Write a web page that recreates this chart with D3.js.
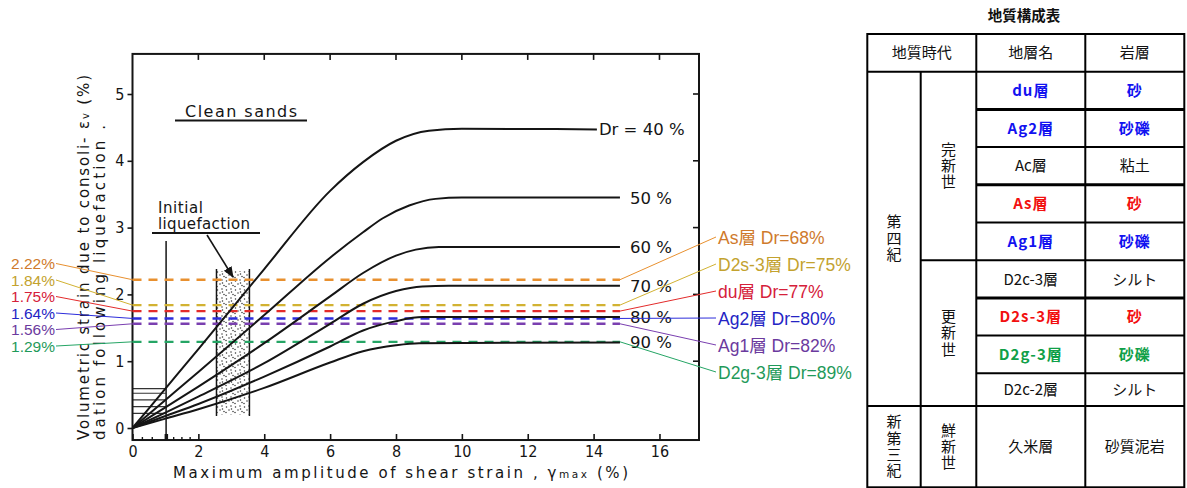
<!DOCTYPE html>
<html><head><meta charset="utf-8">
<script src="https://cdn.jsdelivr.net/npm/d3@7"></script>
<style>
html,body{margin:0;padding:0;background:#fff;}
svg{display:block;}
</style></head>
<body>
<svg id="chart" width="1187" height="488"></svg>
<script>
// ---------------- data ----------------
const drLevels = [40, 50, 60, 70, 80, 90];
const curveDr40 = [[0,0],[1,0.59],[2,1.18],[4,2.38],[6,3.55],[7,3.98],[8,4.3],[9,4.45],[10,4.48],[14.1,4.47]];
const curveDr50 = [[0,0],[1,0.42],[2,0.84],[4,1.69],[6,2.55],[7,2.93],[7.6,3.14],[8.4,3.33],[9.2,3.43],[10,3.45],[14.8,3.45]];
const curveDr60 = [[0,0],[1,0.31],[2,0.62],[4,1.27],[6,1.97],[7,2.32],[8,2.58],[8.6,2.67],[9.3,2.71],[14.8,2.71]];
const curveDr70 = [[0,0],[1,0.23],[2,0.47],[4,0.97],[6,1.56],[7,1.86],[8,2.05],[8.8,2.12],[9.6,2.13],[14.8,2.13]];
const curveDr80 = [[0,0],[1,0.18],[2,0.36],[4,0.77],[6,1.22],[7,1.46],[8,1.6],[8.8,1.66],[14.8,1.66]];
const curveDr90 = [[0,0],[1,0.14],[2,0.28],[4,0.6],[6,0.98],[7,1.15],[8,1.24],[8.7,1.27],[14.8,1.28]];
const drCurves = [curveDr40, curveDr50, curveDr60, curveDr70, curveDr80, curveDr90];

const initialMarks = [0.59, 0.52, 0.42, 0.32, 0.22];
const liquefactionBand = [2.55, 3.55];   // x range of initial liquefaction zone
const liquefactionBandY = [0.2, 2.35];
const initialLine = 1.02;

const xTicks = [0, 2, 4, 6, 8, 10, 12, 14, 16];
const xMinorTicks = [0.3, 0.6, 1.25, 1.5, 1.75];
const yTicks = [0, 1, 2, 3, 4, 5];

const soilLayers = ["As層", "D2s-3層", "du層", "Ag2層", "Ag1層", "D2g-3層"];
const soilDr = [68, 75, 77, 80, 82, 89];
const soilStrain = [2.22, 1.84, 1.75, 1.64, 1.56, 1.29];

const tableTitle = "地質構成表";
const tableHeader = ["地質時代", "地層名", "岩層"];
const tableLayerNames = ["du層","Ag2層","Ac層","As層","Ag1層","D2c-3層","D2s-3層","D2g-3層","D2c-2層","久米層"];
const tableRockTypes = ["砂","砂礫","粘土","砂","砂礫","シルト","砂","砂礫","シルト","砂質泥岩"];
const tablePeriods = ["第四紀", "新第三紀"];
const tableEpochs = ["完新世", "更新世", "鮮新世"];
const tableRowHighlight = ["blue","blue",null,"red","blue",null,"red","green",null,null];

// ---------------- styles ----------------
const dashColors = ["#E8902F", "#D2B232", "#E32B2B", "#2D2DDB", "#7A3FB0", "#25A565"];
const labelColors = ["#CF7A2C", "#C3A22E", "#D5203A", "#2424C4", "#6B3A9E", "#1F9A5A"];
const highlightColors = {blue: "#1212F0", red: "#F21010", green: "#10A048"};
const ink = "#151515";
const plotFont = "'DejaVu Sans', sans-serif";
const condFont = "'DejaVu Sans Condensed', 'DejaVu Sans', sans-serif";
const jpFont = "'Noto Sans CJK JP', 'Noto Sans CJK SC', sans-serif";

const svg = d3.select("#chart");
const x = d3.scaleLinear().domain([0, 17.2]).range([132.5, 699]);
const y = d3.scaleLinear().domain([0, 5]).range([428, 94]);
const yBottom = y(-0.18), yTop = y(5.6);

// defs
const defs = svg.append("defs");
const pat = defs.append("pattern").attr("id", "dots").attr("patternUnits", "userSpaceOnUse")
  .attr("width", 9).attr("height", 9);
[[1.5,2],[6,1],[4,5],[8,6.5],[1,7.5],[6.5,4]].forEach(p =>
  pat.append("circle").attr("cx", p[0]).attr("cy", p[1]).attr("r", 0.75).attr("fill", "#333"));
defs.append("marker").attr("id", "arrow").attr("viewBox", "0 0 10 10").attr("refX", 9).attr("refY", 5)
  .attr("markerWidth", 7).attr("markerHeight", 7).attr("orient", "auto-start-reverse")
  .append("path").attr("d", "M0,1 L10,5 L0,9 z").attr("fill", ink);

// liquefaction band
const band = svg.append("g");
band.append("rect")
  .attr("x", x(liquefactionBand[0])).attr("width", x(liquefactionBand[1]) - x(liquefactionBand[0]))
  .attr("y", y(liquefactionBandY[1])).attr("height", y(liquefactionBandY[0]) - y(liquefactionBandY[1]))
  .attr("fill", "url(#dots)");
band.selectAll("line").data(liquefactionBand).join("line")
  .attr("x1", d => x(d)).attr("x2", d => x(d))
  .attr("y1", y(liquefactionBandY[1] + 0.03)).attr("y2", y(liquefactionBandY[0] - 0.02))
  .attr("stroke", ink).attr("stroke-width", 1.5);

// initial liquefaction line at gamma ~ 1
svg.append("line").attr("x1", x(initialLine)).attr("x2", x(initialLine))
  .attr("y1", y(2.8)).attr("y2", yBottom).attr("stroke", ink).attr("stroke-width", 1.5);
svg.append("rect").attr("x", x(initialLine) - 1.5).attr("y", yBottom - 6).attr("width", 3.5).attr("height", 6).attr("fill", ink);
svg.selectAll(".imark").data(initialMarks).join("line").attr("class", "imark")
  .attr("x1", x(0)).attr("x2", x(initialLine)).attr("y1", d => y(d)).attr("y2", d => y(d))
  .attr("stroke", "#333").attr("stroke-width", 1.2);

// frame
svg.append("rect").attr("x", x(0)).attr("y", yTop).attr("width", x(17.2) - x(0)).attr("height", yBottom - yTop)
  .attr("fill", "none").attr("stroke", ink).attr("stroke-width", 2);

// axes
const gx = svg.append("g").attr("transform", `translate(0,${yBottom})`)
  .call(d3.axisBottom(x).tickValues(xTicks).tickFormat(d3.format("d")).tickSizeInner(-6).tickSizeOuter(0).tickPadding(6));
gx.select(".domain").remove();
gx.selectAll("line").attr("stroke", ink).attr("stroke-width", 1.6);
gx.selectAll("text").attr("font-family", condFont).attr("font-size", 16).attr("fill", ink);
svg.selectAll(".xminor").data(xMinorTicks).join("line").attr("class", "xminor")
  .attr("x1", d => x(d)).attr("x2", d => x(d)).attr("y1", yBottom).attr("y2", yBottom - 3)
  .attr("stroke", ink).attr("stroke-width", 1.4);

const gy = svg.append("g").attr("transform", `translate(${x(0)},0)`)
  .call(d3.axisLeft(y).tickValues(yTicks).tickFormat(d3.format("d")).tickSizeInner(5).tickSizeOuter(0).tickPadding(3));
gy.select(".domain").remove();
gy.selectAll("line").attr("stroke", ink).attr("stroke-width", 1.6);
gy.selectAll("text").attr("font-family", condFont).attr("font-size", 16).attr("fill", ink);

// top & right inner ticks
svg.selectAll(".ttick").data(xTicks.slice(1)).join("line").attr("class", "ttick")
  .attr("x1", d => x(d)).attr("x2", d => x(d)).attr("y1", yTop).attr("y2", yTop + 6)
  .attr("stroke", ink).attr("stroke-width", 1.6);
svg.selectAll(".rtick").data(yTicks.slice(1)).join("line").attr("class", "rtick")
  .attr("x1", x(17.2)).attr("x2", x(17.2) - 6).attr("y1", d => y(d)).attr("y2", d => y(d))
  .attr("stroke", ink).attr("stroke-width", 1.6);

// axis titles
const xt = svg.append("text").attr("x", 173).attr("y", 477.5).attr("font-family", plotFont)
  .attr("font-size", 15).attr("fill", ink).attr("textLength", 455).attr("lengthAdjust", "spacing");
xt.append("tspan").text("Maximum amplitude of shear strain , γ");
xt.append("tspan").attr("font-size", 10.5).text("max");
xt.append("tspan").text(" (%)");

const yt1 = svg.append("text").attr("transform", "translate(89,440) rotate(-90)")
  .attr("font-family", plotFont).attr("font-size", 15).attr("fill", ink)
  .attr("textLength", 365).attr("lengthAdjust", "spacing");
yt1.append("tspan").text("Volumetric strain due to consoli-  ε");
yt1.append("tspan").attr("font-size", 10).text("v");
yt1.append("tspan").text(" (%)");
svg.append("text").attr("transform", "translate(105,440) rotate(-90)")
  .attr("font-family", plotFont).attr("font-size", 15).attr("fill", ink)
  .attr("textLength", 315).attr("lengthAdjust", "spacing")
  .text("dation following liquefaction  .");

// annotations
svg.append("text").attr("x", 185).attr("y", 117).attr("font-family", plotFont).attr("font-size", 16)
  .attr("fill", ink).attr("textLength", 112).attr("lengthAdjust", "spacing").text("Clean sands");
svg.append("line").attr("x1", 175).attr("x2", 307).attr("y1", 120.5).attr("y2", 120.5).attr("stroke", ink).attr("stroke-width", 2.2);
svg.append("text").attr("x", 158).attr("y", 213).attr("font-family", plotFont).attr("font-size", 15)
  .attr("fill", ink).attr("textLength", 45).attr("lengthAdjust", "spacing").text("Initial");
svg.append("text").attr("x", 158).attr("y", 229).attr("font-family", plotFont).attr("font-size", 15)
  .attr("fill", ink).attr("textLength", 92).attr("lengthAdjust", "spacing").text("liquefaction");
svg.append("line").attr("x1", 152).attr("x2", 260).attr("y1", 233).attr("y2", 233).attr("stroke", ink).attr("stroke-width", 1.8);
svg.append("line").attr("x1", 207).attr("y1", 235).attr("x2", 233).attr("y2", 277)
  .attr("stroke", ink).attr("stroke-width", 1.6).attr("marker-end", "url(#arrow)");

// dashed soil lines
svg.selectAll(".soil").data(soilStrain).join("line").attr("class", "soil")
  .attr("x1", x(0)).attr("x2", x(14.8)).attr("y1", d => y(d)).attr("y2", d => y(d))
  .attr("stroke", (d, i) => dashColors[i]).attr("stroke-width", 2.4).attr("stroke-dasharray", "9,7");

// Dr curves
const line = d3.line().x(d => x(d[0])).y(d => y(d[1])).curve(d3.curveMonotoneX);
svg.selectAll(".dr").data(drCurves).join("path").attr("class", "dr")
  .attr("d", line).attr("fill", "none").attr("stroke", ink).attr("stroke-width", 2);
svg.selectAll(".drlab").data(drLevels).join("text").attr("class", "drlab")
  .attr("x", (d, i) => i === 0 ? x(14.1) + 2 : 630)
  .attr("y", (d, i) => y(drCurves[i][drCurves[i].length - 1][1]) + 6)
  .attr("font-family", plotFont).attr("font-size", 16.5).attr("fill", ink)
  .text((d, i) => i === 0 ? `Dr = ${d} %` : `${d} %`);

// left value labels + leaders
const leftY = i => 263.5 + i * 16.5;
svg.selectAll(".lleader").data(soilStrain).join("line").attr("class", "lleader")
  .attr("x1", 56).attr("y1", (d, i) => leftY(i)).attr("x2", x(0)).attr("y2", d => y(d))
  .attr("stroke", (d, i) => dashColors[i]).attr("stroke-width", 1);
svg.selectAll(".llab").data(soilStrain).join("text").attr("class", "llab")
  .attr("x", 55).attr("y", (d, i) => leftY(i) + 5.5).attr("text-anchor", "end")
  .attr("font-family", "'Liberation Sans', Arial, sans-serif").attr("font-size", 15.5)
  .attr("fill", (d, i) => labelColors[i]).text(d => d.toFixed(2) + "%");

// right layer labels + leaders
const rightY = i => 237 + i * 27;
svg.selectAll(".rleader").data(soilStrain).join("line").attr("class", "rleader")
  .attr("x1", x(14.8)).attr("y1", d => y(d)).attr("x2", 716).attr("y2", (d, i) => rightY(i))
  .attr("stroke", (d, i) => dashColors[i]).attr("stroke-width", 1);
svg.selectAll(".rlab").data(soilLayers).join("text").attr("class", "rlab")
  .attr("x", 718).attr("y", (d, i) => rightY(i) + 6.5)
  .attr("font-family", "'Liberation Sans', Arial, " + jpFont).attr("font-size", 17.5)
  .attr("fill", (d, i) => labelColors[i]).text((d, i) => `${d} Dr=${soilDr[i]}%`);

// ---------------- table ----------------
const T = {left: 867.3, c1: 920.7, c2: 976.3, c3: 1085.3, right: 1184.3, top: 34, head: 71.7, bottom: 487.3};
const rowEdges = tableLayerNames.map((d, i) => i <= 8 ? T.head + i * 37.7 : 406);
rowEdges.push(T.bottom);
const tg = svg.append("g");
const hline = (x1, x2, yy, w) => tg.append("line").attr("x1", x1).attr("x2", x2).attr("y1", yy).attr("y2", yy)
  .attr("stroke", "#000").attr("stroke-width", w);
const vline = (xx, y1, y2, w) => tg.append("line").attr("x1", xx).attr("x2", xx).attr("y1", y1).attr("y2", y2)
  .attr("stroke", "#000").attr("stroke-width", w);
tg.append("rect").attr("x", T.left).attr("y", T.top).attr("width", T.right - T.left).attr("height", T.bottom - T.top)
  .attr("fill", "none").attr("stroke", "#000").attr("stroke-width", 2);
hline(T.left, T.right, T.head, 2);
vline(T.c1, T.head, T.bottom, 2);
vline(T.c2, T.top, T.bottom, 2);
vline(T.c3, T.top, T.bottom, 2);
const thick = new Set([1, 3, 6]);
for (let i = 1; i <= 8; i++) hline(i === 5 ? T.c1 : T.c2, T.right, rowEdges[i], thick.has(i) ? 3 : 2);
hline(T.left, T.right, rowEdges[9], 2);

const ttext = (xx, yy, s, opts = {}) => tg.append("text").attr("x", xx).attr("y", yy).attr("text-anchor", "middle")
  .attr("font-family", jpFont).attr("font-size", opts.size || 15).attr("font-weight", opts.bold ? "bold" : "normal")
  .attr("letter-spacing", opts.ls || 0).attr("fill", opts.color || "#111").text(s);

ttext(1024, 20.5, tableTitle, {size: 14.5, bold: true});
const headX = [(T.left + T.c2) / 2, (T.c2 + T.c3) / 2, (T.c3 + T.right) / 2];
tableHeader.forEach((s, i) => ttext(headX[i], (T.top + T.head) / 2 + 5.5, s));
tableLayerNames.forEach((s, i) => {
  const cy = (rowEdges[i] + rowEdges[i + 1]) / 2 + 5.5;
  const hl = tableRowHighlight[i];
  const o = hl ? {bold: true, color: highlightColors[hl], ls: 1} : {};
  ttext(headX[1], cy, s, o);
  ttext(headX[2], cy, tableRockTypes[i], o);
});
// vertical (tategaki) labels as single text elements
const vtext = (xx, cy, s, gap) => tg.append("text")
  .attr("x", xx).attr("y", cy).attr("text-anchor", "middle")
  .style("writing-mode", "vertical-rl").attr("letter-spacing", gap)
  .attr("font-family", jpFont).attr("font-size", 15).attr("fill", "#111").text(s);
const colA = (T.left + T.c1) / 2, colB = (T.c1 + T.c2) / 2;
vtext(colA, (rowEdges[0] + rowEdges[9]) / 2, tablePeriods[0], 1.5);
vtext(colA, (rowEdges[9] + rowEdges[10]) / 2, tablePeriods[1], 1.2);
vtext(colB, (rowEdges[0] + rowEdges[5]) / 2, tableEpochs[0], 1);
vtext(colB, (rowEdges[5] + rowEdges[9]) / 2, tableEpochs[1], 1.5);
vtext(colB, (rowEdges[9] + rowEdges[10]) / 2, tableEpochs[2], 1);
</script>
</body></html>
